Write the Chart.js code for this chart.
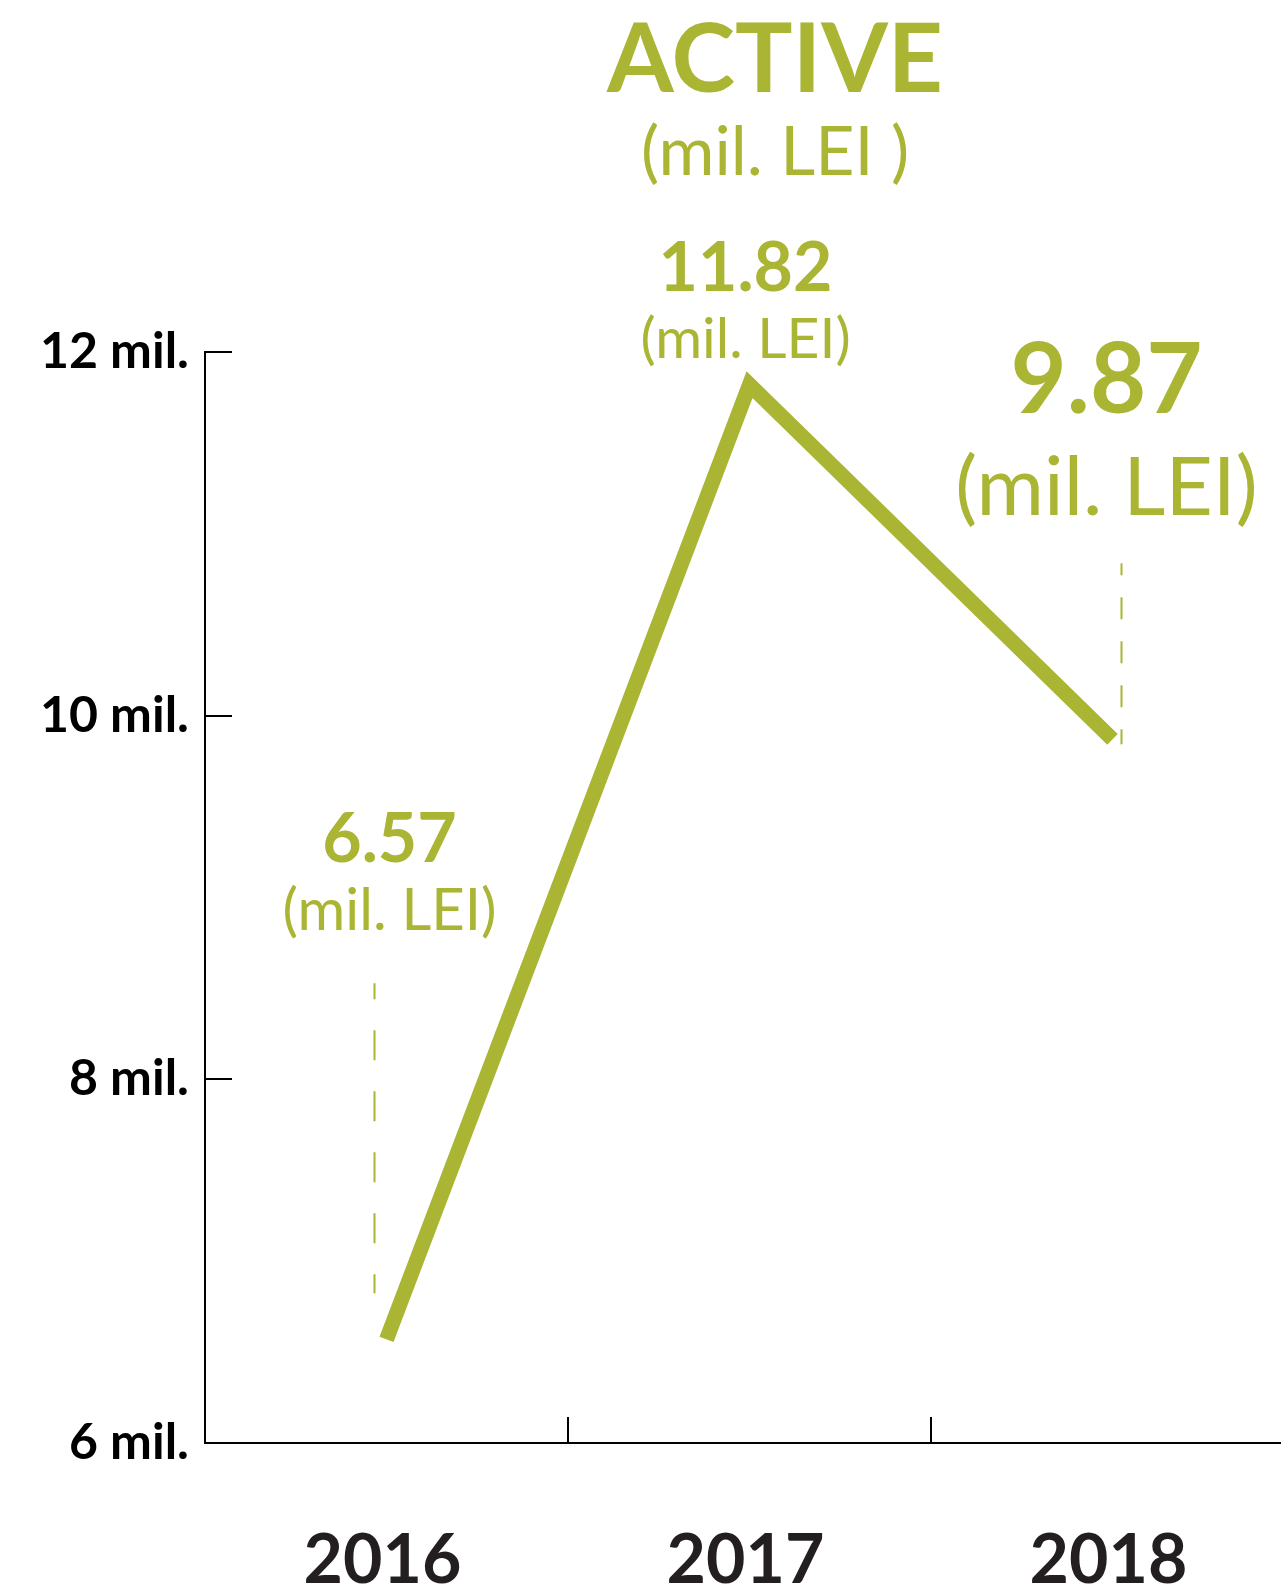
<!DOCTYPE html>
<html>
<head>
<meta charset="utf-8">
<script src="https://cdn.jsdelivr.net/npm/chart.js@4/dist/chart.umd.min.js"></script>
<style>
  html, body { margin: 0; padding: 0; background: #ffffff; overflow: hidden; }
  #wrap { width: 1281px; height: 1590px; overflow: hidden; }
</style>
</head>
<body>
<div id="wrap"><canvas id="activeChart" width="1294" height="1590"></canvas></div>
<script>
// data
const years = ['2016', '2017', '2018'];
const activeValues = [6.57, 11.82, 9.87];
const valueLabels = ['6.57', '11.82', '9.87'];
const unitLabels = ['(mil. LEI)', '(mil. LEI)', '(mil. LEI)'];
const yTickValues = [6, 8, 10, 12];
const yTickSuffix = ' mil.';
const titleText = 'ACTIVE';
const subtitleText = '(mil. LEI )';

const GREEN = '#aab533';
const FONT = "Lato, 'Open Sans', sans-serif";

// label placement relative to each point (pixels)
const labelLayout = [
    { dx: 3, valueSize: 68, valueDy: -477, unitSize: 58, unitDy: -409 },
    { dx: -4, valueSize: 68, valueDy: -94, unitSize: 57, unitDy: -27 },
    { dx: -6, valueSize: 97, valueDy: -326, unitSize: 82, unitDy: -224 }
];
// dashed guides: index, x offset, top/bottom offsets from point, dash pattern
const guides = [
    { index: 0, dx: -12, top: -356, bottom: -46, dash: [30, 31], offset: 14 },
    { index: 2, dx: 9, top: -176, bottom: 5, dash: [22, 22], offset: 10 }
];

const decorations = {
    id: 'decorations',
    afterDatasetsDraw(chart) {
        const ctx = chart.ctx;
        const meta = chart.getDatasetMeta(0);
        const xs = chart.scales.x;
        const ys = chart.scales.y;
        const area = chart.chartArea;

        ctx.save();
        // inward tick marks
        ctx.strokeStyle = '#000000';
        ctx.lineWidth = 2;
        ctx.beginPath();
        yTickValues.slice(1).forEach(v => {
            const y = Math.round(ys.getPixelForValue(v));
            ctx.moveTo(area.left, y);
            ctx.lineTo(area.left + 27, y);
        });
        for (let i = 0; i < years.length - 1; i++) {
            const x = Math.round((xs.getPixelForValue(i) + xs.getPixelForValue(i + 1)) / 2);
            ctx.moveTo(x, area.bottom);
            ctx.lineTo(x, area.bottom - 26);
        }
        ctx.stroke();

        // dashed guides
        ctx.strokeStyle = GREEN;
        ctx.lineWidth = 2;
        guides.forEach(g => {
            const pt = meta.data[g.index];
            ctx.setLineDash(g.dash);
            ctx.lineDashOffset = g.offset;
            ctx.beginPath();
            ctx.moveTo(pt.x + g.dx, pt.y + g.top);
            ctx.lineTo(pt.x + g.dx, pt.y + g.bottom);
            ctx.stroke();
        });
        ctx.setLineDash([]);

        // value labels
        ctx.fillStyle = GREEN;
        ctx.textAlign = 'center';
        ctx.textBaseline = 'alphabetic';
        meta.data.forEach((pt, i) => {
            const l = labelLayout[i];
            ctx.font = `bold ${l.valueSize}px ${FONT}`;
            ctx.fillText(valueLabels[i], pt.x + l.dx, pt.y + l.valueDy);
            ctx.font = `${l.unitSize}px ${FONT}`;
            ctx.fillText(unitLabels[i], pt.x + l.dx, pt.y + l.unitDy);
        });

        // title
        ctx.font = `bold 96px ${FONT}`;
        ctx.fillText(titleText, 775, 92);
        ctx.font = `68px ${FONT}`;
        ctx.fillText(subtitleText, 775, 175);
        ctx.restore();
    }
};

new Chart(document.getElementById('activeChart').getContext('2d'), {
    type: 'line',
    data: {
        labels: years,
        datasets: [{
            data: activeValues,
            borderColor: GREEN,
            borderWidth: 15,
            borderJoinStyle: 'miter',
            borderCapStyle: 'butt',
            pointRadius: 0,
            tension: 0,
            fill: false,
            clip: 40
        }]
    },
    options: {
        responsive: false,
        animation: false,
        devicePixelRatio: 1,
        layout: { padding: { top: 352, right: 0, left: 0, bottom: 0 } },
        plugins: {
            legend: { display: false },
            tooltip: { enabled: false }
        },
        scales: {
            x: {
                offset: true,
                grid: { display: false, drawTicks: false },
                border: { display: true, color: '#000000', width: 2 },
                ticks: {
                    color: '#231f20',
                    padding: 77,
                    labelOffset: -4,
                    font: { family: FONT, size: 68, weight: 'bold' }
                },
                afterFit: scale => { scale.height = 147; }
            },
            y: {
                min: 6,
                max: 12,
                grid: { display: false, drawTicks: false },
                border: { display: true, color: '#000000', width: 2 },
                afterBuildTicks: scale => {
                    scale.ticks = yTickValues.map(v => ({ value: v }));
                },
                ticks: {
                    color: '#000000',
                    padding: 16,
                    font: { family: FONT, size: 50, weight: 'bold' },
                    callback: v => v + yTickSuffix
                },
                afterFit: scale => { scale.width = 205; }
            }
        }
    },
    plugins: [decorations]
});
</script>
</body>
</html>
